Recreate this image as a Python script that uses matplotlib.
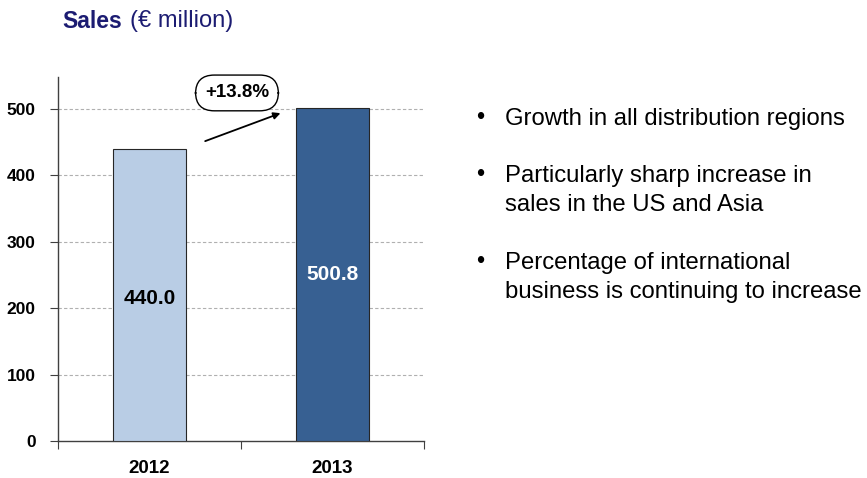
import matplotlib
matplotlib.use("Agg")
import matplotlib.pyplot as plt

plt.rcParams['font.family'] = ['Liberation Sans', 'DejaVu Sans']

years = ["2012", "2013"]
sales = [440.0, 500.8]
bar_colors = ["#b9cde5", "#376092"]
y_ticks = [0, 100, 200, 300, 400, 500]
label_heights = [215, 251]
bullets = [
    "Growth in all distribution regions",
    "Particularly sharp increase in\nsales in the US and Asia",
    "Percentage of international\nbusiness is continuing to increase",
]

fig = plt.figure(figsize=(8.67, 4.78), dpi=100)
ax = fig.add_axes([58 / 867, 1 - 441 / 478, (424 - 58) / 867, (441 - 77) / 478])

x = range(len(years))
ax.bar(x, sales, width=0.4, color=bar_colors, edgecolor="#262626", linewidth=0.8, zorder=3)
ax.set_xlim(-0.5, 1.5)
ax.set_ylim(0, 548)

for i, (v, h) in enumerate(zip(sales, label_heights)):
    ax.text(i, h, f"{v:.1f}", ha="center", va="center", fontsize=15, fontweight="bold",
            color="black" if i == 0 else "white", zorder=4)

# category axis: labels centred, tick marks at category boundaries
ax.set_xticks([-0.5, 0.5, 1.5])
ax.set_xticklabels([])
ax.set_xticks(list(x), minor=True)
ax.set_xticklabels(years, minor=True, fontsize=13.5, fontweight="bold")
ax.tick_params(axis="x", which="minor", length=0, pad=14)
ax.tick_params(axis="x", which="major", length=6, direction="out", color="#404040")

ax.set_yticks(y_ticks)
ax.set_yticklabels([str(t) for t in y_ticks], fontsize=12.5, fontweight="bold")
ax.tick_params(axis="y", length=6, direction="out", color="#404040", pad=10)

for t in y_ticks[1:]:
    ax.axhline(t, color="#b0b0b0", linestyle=(0, (3, 2)), linewidth=0.8, zorder=1)

for side in ("top", "right"):
    ax.spines[side].set_visible(False)
for side in ("left", "bottom"):
    ax.spines[side].set_color("#404040")
    ax.spines[side].set_linewidth(1.0)

# growth annotation
growth = (sales[1] / sales[0] - 1) * 100
ax.annotate("", xy=(0.73, 495), xytext=(0.29, 450),
            arrowprops=dict(arrowstyle="-|>", color="black", lw=1.3, mutation_scale=10),
            zorder=5)
ax.text(0.478, 524, f"+{growth:.1f}%", ha="center", va="center", fontsize=13.5,
        fontweight="bold",
        bbox=dict(boxstyle="round,pad=0.5,rounding_size=1.0", facecolor="white",
                  edgecolor="black", linewidth=1.0), zorder=6)

# title
fig.text(62 / 867, 1 - 21 / 478, "Sales", fontsize=16.5, fontweight="bold",
         color="#1c1c72", va="center", ha="left")
fig.text(130 / 867, 1 - 21 / 478, "(€ million)", fontsize=17, color="#1c1c72",
         va="center", ha="left")

# bullet list
bullet_y = [118, 175, 262]
for y, txt in zip(bullet_y, bullets):
    fig.text(476 / 867, 1 - y / 478, "•", fontsize=17, va="center", ha="left")
    fig.text(505 / 867, 1 - (y - 10) / 478, txt, fontsize=17.2, va="top", ha="left",
             linespacing=1.4)

fig.savefig("out.png", dpi=100)
